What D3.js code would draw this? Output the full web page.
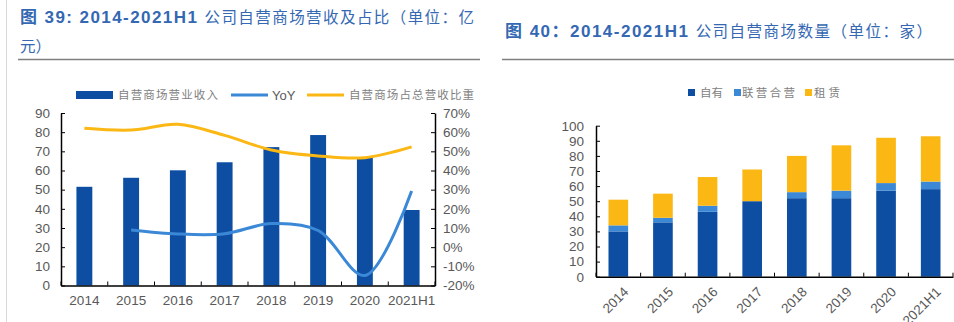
<!DOCTYPE html>
<html>
<head>
<meta charset="utf-8">
<script src="https://cdn.jsdelivr.net/npm/d3@7"></script>
<style>
  body { margin: 0; background: #fff; }
  svg text { font-family: "Liberation Sans", Arial, "Noto Sans CJK SC", sans-serif; }
  .axis path, .axis line { stroke: #000; }
  .axis text { fill: #595959; font-size: 13.5px; }
</style>
</head>
<body>
<div id="graphic"></div>
<script>
// revenue chart (图 39)
const years = ["2014", "2015", "2016", "2017", "2018", "2019", "2020", "2021H1"]
const revenue = [51.5, 56.2, 60.1, 64.3, 72.2, 78.5, 66.9, 39.4]          // 亿元
const yoy = [null, 9.0, 6.9, 7.0, 12.3, 8.7, -14.8, 29.3]                  // %
const share = [62.0, 61.1, 64.1, 58.3, 50.7, 47.6, 46.7, 52.3]             // %
const revTicks = [0, 10, 20, 30, 40, 50, 60, 70, 80, 90]
const pctTicks = [-20, -10, 0, 10, 20, 30, 40, 50, 60, 70]

// store count chart (图 40)
const owned = [30, 36, 43, 50, 52, 52, 57, 58]
const jointVenture = [4, 3, 4, 0, 4, 5, 5, 5]
const leased = [17, 16, 19, 21, 24, 30, 30, 30]
const storeTicks = [0, 10, 20, 30, 40, 50, 60, 70, 80, 90, 100]
const storeKeys = ["自有", "联营合营", "租赁"]

const DARK = "#0d4ea3"
const LIGHT = "#3b89d6"
const ORANGE = "#fbb714"
const TITLE = "#3468b3"

const svg = d3.select("#graphic").append("svg")
    .attr("width", 954)
    .attr("height", 322)

// page decorations: left rule and title underlines
svg.append("line")
    .attr("x1", 6.5).attr("x2", 6.5).attr("y1", 0).attr("y2", 322)
    .attr("stroke", "#d9d9d9").attr("stroke-width", 1)
svg.append("line")
    .attr("x1", 18).attr("x2", 480).attr("y1", 59.5).attr("y2", 59.5)
    .attr("stroke", "#7f7f7f").attr("stroke-width", 1.5)
svg.append("line")
    .attr("x1", 502).attr("x2", 954).attr("y1", 59.5).attr("y2", 59.5)
    .attr("stroke", "#7f7f7f").attr("stroke-width", 1.5)

function title(x, y, len, parts) {
    let t = svg.append("text")
        .attr("x", x).attr("y", y)
        .attr("fill", TITLE)
        .attr("font-size", 15.5)
    if (len) t.attr("textLength", len).attr("lengthAdjust", "spacing")
    parts.forEach(function (p) {
        t.append("tspan")
            .attr("font-weight", p[1] ? "bold" : "normal")
            .attr("font-size", p[1] ? 17 : 15.5)
            .text(p[0])
    })
}
title(20, 23, 454, [["图 ", true], ["39: 2014-2021H1 ", true], ["公司自营商场营收及占比（单位：亿", false]])
title(20, 52, null, [["元）", false]])
title(505, 36.5, 427, [["图 ", true], ["40：2014-2021H1 ", true], ["公司自营商场数量（单位：家）", false]])

// ---------- left chart ----------
const L = { left: 61, right: 435, top: 113, bottom: 285.5 }

let x1 = d3.scaleBand()
    .domain(years)
    .range([L.left, L.right])
    .paddingInner(0.66)
    .paddingOuter(0.33)

let yRev = d3.scaleLinear().domain([0, 90]).range([L.bottom, L.top])
let yPct = d3.scaleLinear().domain([-20, 70]).range([L.bottom, L.top])

svg.selectAll(null)
    .data(years).enter()
    .append("rect")
    .attr("x", function (d) { return x1(d) })
    .attr("y", function (d, i) { return yRev(revenue[i]) })
    .attr("width", x1.bandwidth())
    .attr("height", function (d, i) { return L.bottom - yRev(revenue[i]) })
    .attr("fill", DARK)

const cx1 = function (i) { return x1(years[i]) + x1.bandwidth() / 2 }

let shareLine = d3.line()
    .x(function (d, i) { return cx1(i) })
    .y(function (d) { return yPct(d) })
    .curve(d3.curveCatmullRom.alpha(0.5))

svg.append("path")
    .attr("d", shareLine(share))
    .attr("fill", "none")
    .attr("stroke", ORANGE)
    .attr("stroke-width", 3)

let yoyLine = d3.line()
    .defined(function (d) { return d !== null })
    .x(function (d, i) { return cx1(i) })
    .y(function (d) { return yPct(d) })
    .curve(d3.curveCatmullRom.alpha(0.5))

svg.append("path")
    .attr("d", yoyLine(yoy))
    .attr("fill", "none")
    .attr("stroke", LIGHT)
    .attr("stroke-width", 3)

svg.append("g")
    .attr("class", "axis")
    .attr("transform", "translate(" + L.left + ",0)")
    .call(d3.axisLeft(yRev).tickValues(revTicks).tickSizeInner(-4).tickSizeOuter(0).tickPadding(11))
    .call(function (g) { g.select(".domain").attr("stroke-width", 1.5) })

svg.append("g")
    .attr("class", "axis")
    .attr("transform", "translate(" + L.right + ",0)")
    .call(d3.axisRight(yPct).tickValues(pctTicks).tickSizeInner(-4).tickSizeOuter(0).tickPadding(8)
        .tickFormat(function (d) { return d + "%" }))
    .call(function (g) { g.select(".domain").attr("stroke-width", 1.5) })

function bandAxis(band, yBase, rotate) {
    let g = svg.append("g")
        .attr("class", "axis")
        .attr("transform", "translate(0," + yBase + ")")
        .call(d3.axisBottom(band).tickSize(0).tickPadding(10))
    g.select(".domain").attr("stroke-width", 1.5)
    // tick marks between categories, pointing up into the plot
    let gap = (band.step() - band.bandwidth()) / 2
    let bounds = band.domain().map(function (d) { return band(d) - gap })
    bounds.push(band.range()[1])
    g.selectAll(null)
        .data(bounds).enter()
        .append("line")
        .attr("x1", function (d) { return d })
        .attr("x2", function (d) { return d })
        .attr("y1", 0).attr("y2", -4)
        .attr("stroke", "#000")
    if (rotate) {
        g.selectAll(".tick text")
            .attr("text-anchor", "end")
            .attr("dy", 0)
            .attr("transform", "translate(4,9) rotate(-45)")
    }
    return g
}
bandAxis(x1, L.bottom, false)

// left legend
const legL = svg.append("g").attr("font-size", 11.5).attr("fill", "#7f7f7f")
legL.append("rect").attr("x", 76).attr("y", 91).attr("width", 37).attr("height", 8).attr("fill", DARK)
legL.append("text").attr("x", 118).attr("y", 99).attr("textLength", 100).attr("lengthAdjust", "spacing").text("自营商场营业收入")
legL.append("line").attr("x1", 231).attr("x2", 268).attr("y1", 95).attr("y2", 95).attr("stroke", LIGHT).attr("stroke-width", 3)
legL.append("text").attr("x", 272).attr("y", 99.5).attr("font-size", 13).attr("fill", "#595959").text("YoY")
legL.append("line").attr("x1", 307).attr("x2", 344).attr("y1", 95).attr("y2", 95).attr("stroke", ORANGE).attr("stroke-width", 3)
legL.append("text").attr("x", 349).attr("y", 99).attr("textLength", 125).attr("lengthAdjust", "spacing").text("自营商场占总营收比重")

// ---------- right chart ----------
const R = { left: 596, right: 953, top: 125.7, bottom: 276.7 }

let x2 = d3.scaleBand()
    .domain(years)
    .range([R.left, R.right])
    .paddingInner(0.56)
    .paddingOuter(0.28)

let yStore = d3.scaleLinear().domain([0, 100]).range([R.bottom, R.top])

const storeRows = years.map(function (d, i) {
    return { year: d, "自有": owned[i], "联营合营": jointVenture[i], "租赁": leased[i] }
})
const stacked = d3.stack().keys(storeKeys)(storeRows)
const storeColor = d3.scaleOrdinal().domain(storeKeys).range([DARK, LIGHT, ORANGE])

svg.append("g")
    .selectAll("g")
    .data(stacked).enter()
    .append("g")
    .attr("fill", function (d) { return storeColor(d.key) })
    .selectAll("rect")
    .data(function (d) { return d }).enter()
    .append("rect")
    .attr("x", function (d) { return x2(d.data.year) })
    .attr("y", function (d) { return yStore(d[1]) })
    .attr("width", x2.bandwidth())
    .attr("height", function (d) { return yStore(d[0]) - yStore(d[1]) })

svg.append("g")
    .attr("class", "axis")
    .attr("transform", "translate(" + R.left + ",0)")
    .call(d3.axisLeft(yStore).tickValues(storeTicks).tickSizeInner(-4).tickSizeOuter(0).tickPadding(12))
    .call(function (g) { g.select(".domain").attr("stroke-width", 1.5) })

bandAxis(x2, R.bottom, true)

// right legend
const legR = svg.append("g").attr("font-size", 11.5).attr("fill", "#7f7f7f")
const legPos = [[688, 700, 23], [734, 742, 53], [805, 814, 26]]
storeKeys.forEach(function (k, i) {
    legR.append("rect").attr("x", legPos[i][0]).attr("y", 89).attr("width", 7).attr("height", 7).attr("fill", storeColor(k))
    legR.append("text").attr("x", legPos[i][1]).attr("y", 97).attr("textLength", legPos[i][2]).attr("lengthAdjust", "spacing").text(k)
})
</script>
</body>
</html>
